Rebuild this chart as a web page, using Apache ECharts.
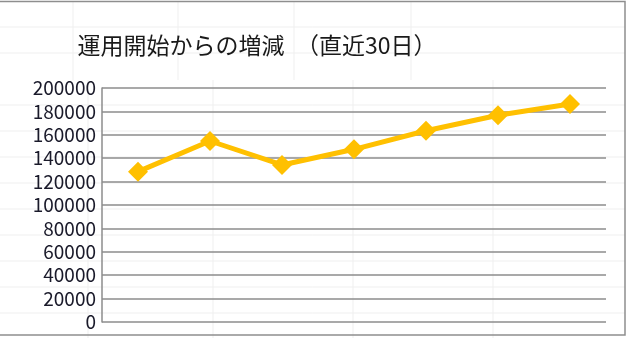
<!DOCTYPE html>
<html>
<head>
<meta charset="utf-8">
<script src="https://cdn.jsdelivr.net/npm/echarts@6/dist/echarts.min.js"></script>
<style>
html,body{margin:0;padding:0;background:#fff;}
#chart{width:627px;height:338px;}
</style>
</head>
<body>
<div id="chart"></div>
<script>
const titleText = '運用開始からの増減　（直近30日）';
const categories = ['1', '2', '3', '4', '5', '6', '7'];
const values = [128500, 154700, 134200, 147600, 163500, 176700, 186300];
const yMin = 0, yMax = 200000, yStep = 20000;

const chart = echarts.init(document.getElementById('chart'));

// faint spreadsheet cell lines behind the chart
const bg = [];
[27, 53, 105, 131, 157, 183, 209, 235, 261, 287, 313].forEach(y => {
  bg.push({type:'line', z:-10, shape:{x1:0, y1:y, x2:625, y2:y}, style:{stroke:'#efefef', lineWidth:1}});
});
[73, 178, 294, 411].forEach(x => {
  bg.push({type:'line', z:-10, shape:{x1:x, y1:2, x2:x, y2:80}, style:{stroke:'#efefef', lineWidth:1}});
});
[88, 213, 353, 493].forEach(x => {
  bg.push({type:'line', z:-10, shape:{x1:x, y1:80, x2:x, y2:338}, style:{stroke:'#efefef', lineWidth:1}});
});
bg.push({type:'rect', z:-5, shape:{x:-20, y:1.5, width:645, height:333.5}, style:{fill:'none', stroke:'#8e8e8e', lineWidth:1.5}});

chart.setOption({
  animation: false,
  backgroundColor: '#ffffff',
  graphic: bg,
  title: {
    text: titleText,
    left: 252, top: 29, textAlign: 'center',
    textStyle: {fontFamily: '"Noto Sans CJK JP"', fontWeight: 'normal', fontSize: 23, color: '#1a1a1a'}
  },
  grid: {left: 102, right: 21, top: 88, bottom: 16, containLabel: false},
  xAxis: {
    type: 'category', data: categories, boundaryGap: true,
    axisLine: {show: false}, axisTick: {show: false}, axisLabel: {show: false},
    splitLine: {show: false}
  },
  yAxis: {
    type: 'value', min: yMin, max: yMax, interval: yStep,
    axisLine: {show: true, lineStyle: {color: '#8c8c8c', width: 1.5}},
    axisTick: {show: false},
    axisLabel: {margin: 6, fontFamily: '"Noto Sans CJK JP"', fontSize: 19, color: '#1a1a2a',
      formatter: v => String(v)},
    splitLine: {show: true, lineStyle: {color: '#8c8c8c', width: 1.5}}
  },
  series: [{
    type: 'line', data: values,
    symbol: 'diamond', symbolSize: 20,
    lineStyle: {color: '#FFC000', width: 5},
    itemStyle: {color: '#FFC000'}
  }]
});
</script>
</body>
</html>
